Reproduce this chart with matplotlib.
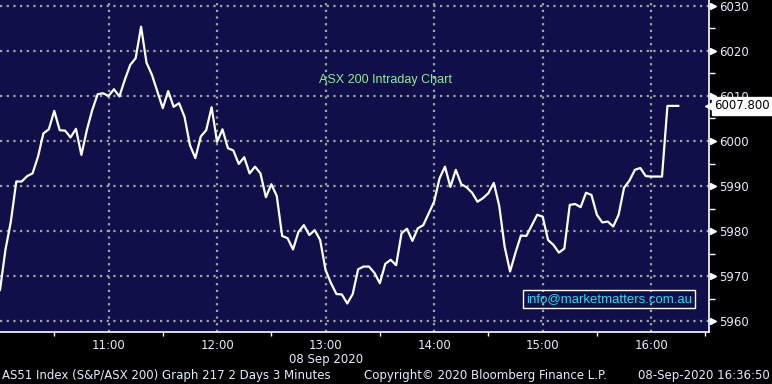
import matplotlib
matplotlib.use('Agg')
import matplotlib.pyplot as plt
from matplotlib.ticker import FixedLocator, FuncFormatter

# 3-minute bar number since the 10:00 open, and the index level at that bar
bar = [0, 1, 2, 3, 4, 5, 6, 7, 8, 9, 10, 11, 12, 13, 14, 15, 16, 17, 18, 19,
       20, 21, 22, 23, 24, 25, 26, 27, 28, 30, 31, 32, 33, 34, 35, 36, 37, 38,
       39, 40, 41, 42, 43, 44, 45, 46, 47, 48, 49, 50, 51, 52, 53, 54, 55, 56,
       57, 58, 59, 60, 61, 62, 63, 64, 65, 66, 67, 68, 69, 70, 71, 72, 73, 74,
       75, 76, 77, 78, 79, 80, 81, 82, 83, 84, 85, 86, 87, 88, 89, 90, 91, 92,
       93, 94, 95, 96, 97, 99, 100, 101, 102, 103, 104, 105, 106, 107, 108,
       109, 110, 111, 112, 113, 114, 115, 116, 117, 118, 119, 120, 122, 123, 125]
level = [5966.9, 5975.8, 5982.1, 5991.0, 5991.0, 5992.2, 5992.8, 5996.5, 6001.7,
         6002.6, 6006.7, 6002.4, 6002.3, 6000.8, 6002.7, 5996.9, 6002.4, 6006.9,
         6010.4, 6010.6, 6010.0, 6011.5, 6009.9, 6013.6, 6016.9, 6018.4, 6025.4,
         6017.4, 6014.7, 6007.3, 6011.1, 6007.6, 6008.4, 6005.4, 5999.1, 5996.2,
         6001.0, 6002.4, 6007.5, 5999.8, 6002.6, 5998.4, 5997.9, 5994.9, 5996.4,
         5992.8, 5994.3, 5992.8, 5987.5, 5990.4, 5987.8, 5978.9, 5978.4, 5975.9,
         5979.8, 5981.3, 5979.1, 5980.2, 5978.0, 5971.3, 5968.4, 5966.0, 5965.9,
         5963.9, 5966.0, 5971.5, 5972.1, 5972.1, 5970.7, 5968.4, 5972.7, 5973.6,
         5972.4, 5979.5, 5980.5, 5977.8, 5980.6, 5981.3, 5983.9, 5986.5, 5991.7,
         5994.3, 5989.8, 5993.6, 5990.4, 5989.7, 5988.5, 5986.5, 5987.3, 5988.4,
         5990.7, 5985.6, 5976.5, 5971.0, 5975.2, 5979.0, 5978.9, 5983.6, 5983.2,
         5978.0, 5976.9, 5975.2, 5976.1, 5985.8, 5986.0, 5985.3, 5988.5, 5988.0,
         5983.6, 5981.9, 5982.1, 5981.0, 5983.6, 5989.6, 5991.2, 5993.6, 5994.0,
         5992.2, 5992.1, 5992.1, 6007.8, 6007.8]

hours = [11, 12, 13, 14, 15, 16]
half_hours = [10.5, 11.5, 12.5, 13.5, 14.5, 15.5, 16.5]
y_major = [5960, 5970, 5980, 5990, 6000, 6010, 6020, 6030]
y_minor = [5965, 5975, 5985, 5995, 6005, 6015, 6025]

title = 'ASX 200 Intraday Chart'
date_label = '08 Sep 2020'
contact = 'info@marketmatters.com.au'
footer_left = 'AS51 Index (S&P/ASX 200) Graph 217 2 Days 3 Minutes'
footer_mid = 'Copyright\u00a9 2020 Bloomberg Finance L.P.'
footer_right = '08-Sep-2020 16:36:50'

BG = '#100f4a'
TXT = '#e4ecfa'

x = [10 + b * 3 / 60 for b in bar]

fig = plt.figure(figsize=(7.72, 3.84), dpi=100, facecolor='black')
ax = fig.add_axes([0, 0.1354, 0.9184, 0.8646])
ax.set_facecolor(BG)

ax.plot(x, level, color='white', lw=1.6, zorder=3)

ax.set_xlim(10.0, 16.533)
ax.set_ylim(5957.56, 6031.33)

for h in hours:
    ax.axvline(h, color='#a4a4a4', lw=1.6, ls=(0, (1, 2)), zorder=1)
for v in y_major:
    ax.axhline(v, color='#a4a4a4', lw=1.6, ls=(0, (1, 2)), zorder=1)

for s in ['top', 'left']:
    ax.spines[s].set_visible(False)
for s in ['right', 'bottom']:
    ax.spines[s].set_color('white')
    ax.spines[s].set_linewidth(1.2)

ax.xaxis.set_major_locator(FixedLocator(hours))
ax.xaxis.set_minor_locator(FixedLocator(half_hours))
ax.xaxis.set_major_formatter(FuncFormatter(lambda v, p: '%d:00' % round(v)))
ax.tick_params(axis='x', which='major', length=0, pad=5, labelsize=8.5, labelcolor=TXT)
ax.tick_params(axis='x', which='minor', length=3, width=1, color='white', direction='out')

ax.yaxis.tick_right()
ax.yaxis.set_major_locator(FixedLocator(y_major))
ax.yaxis.set_minor_locator(FixedLocator(y_minor))
ax.tick_params(axis='y', which='major', length=0, pad=7, labelsize=8.5, labelcolor=TXT)
ax.tick_params(axis='y', which='minor', length=4, width=1, color='white', direction='out')

# small pointers next to each price level
ax.plot([1.006] * len(y_major), y_major, marker='>', ms=5, color='white', ls='none',
        transform=ax.get_yaxis_transform(), clip_on=False)

# last price tag, drawn over the axis labels like the terminal does
last = level[-1]
ax.annotate('%.3f' % last, xy=(1.0, last), xycoords=ax.get_yaxis_transform(),
            xytext=(4, 0), textcoords='offset points', ha='left', va='center',
            fontsize=8.5, color='black', annotation_clip=False, zorder=10,
            bbox=dict(boxstyle='square,pad=0.2', fc='white', ec='white'))
ax.plot([1.0], [last], marker='<', ms=6, color='white', zorder=9,
        transform=ax.get_yaxis_transform(), clip_on=False)

ax.text(0.5437, 0.759, title, transform=ax.transAxes, ha='center', va='center',
        color='#8cf08c', fontsize=9, family='Liberation Sans')
ax.text(0.859, 0.0994, contact, transform=ax.transAxes, ha='center', va='center',
        color='#19e0f0', fontsize=9.5, family='Liberation Sans',
        bbox=dict(boxstyle='square,pad=0.2', fc='none', ec='white', lw=1))

ax.annotate(date_label, xy=(13, 0), xycoords=ax.get_xaxis_transform(),
            xytext=(0, -15), textcoords='offset points', ha='center', va='top',
            fontsize=8.5, color=TXT, annotation_clip=False)

fig.text(0.003, 0.021, footer_left, ha='left', va='center', fontsize=8.5, color=TXT)
fig.text(0.472, 0.021, footer_mid, ha='left', va='center', fontsize=8.5, color=TXT)
fig.text(0.997, 0.021, footer_right, ha='right', va='center', fontsize=8.5, color=TXT)

fig.savefig('out.png', dpi=100, facecolor='black')
